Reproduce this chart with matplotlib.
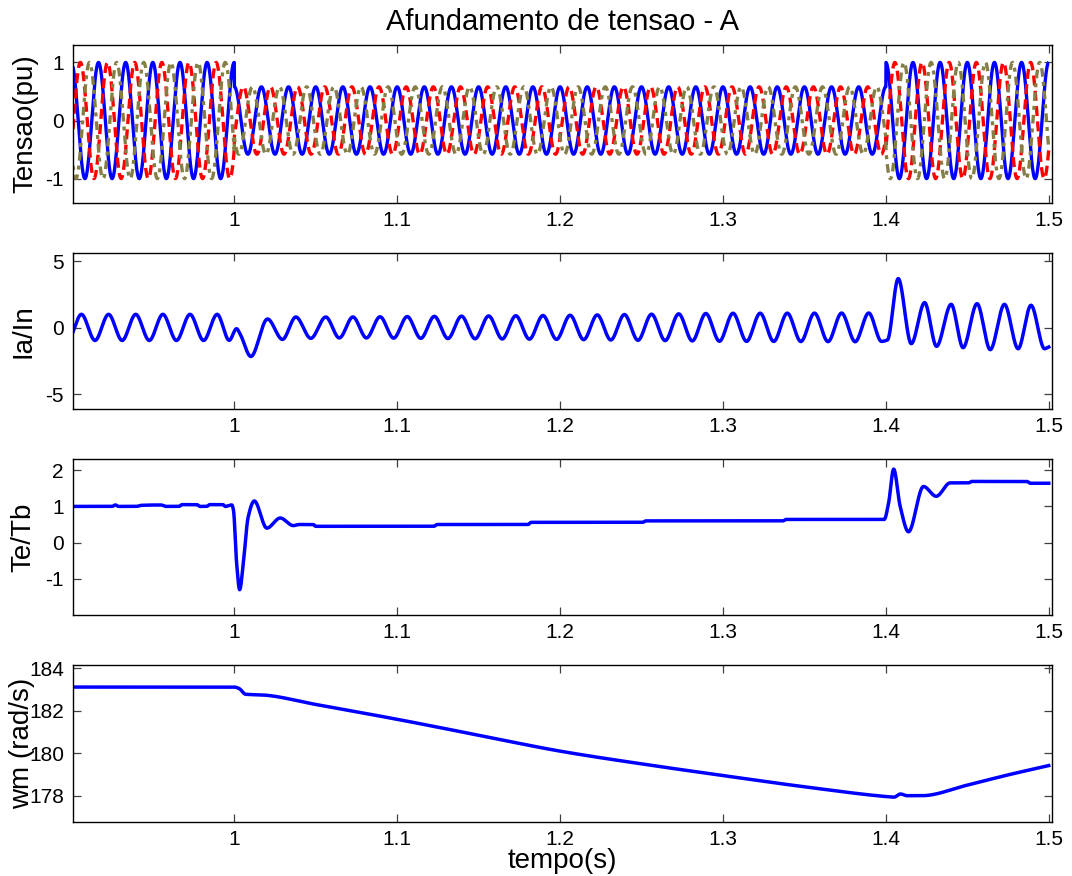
import numpy as np
import matplotlib
matplotlib.use('Agg')
import matplotlib.pyplot as plt

plt.rcParams['font.family'] = ['Liberation Sans', 'DejaVu Sans']

# ---------------- data ----------------
title = 'Afundamento de tensao - A'
xlabel = 'tempo(s)'
ylabels = ['Tensao(pu)', 'Ia/In', 'Te/Tb', 'wm (rad/s)']
x_ticks = [1.0, 1.1, 1.2, 1.3, 1.4, 1.5]
x_tick_labels = ['1', '1.1', '1.2', '1.3', '1.4', '1.5']
t_first, t_last = 0.9, 1.5

# Three-phase voltages (60 Hz), amplitude steps at sag start / end
freq_hz = 60.0
phase_deg = [0.0, -120.0, 120.0]            # phase A (blue), B (red), C (olive)
v_step_times = [0.9, 1.0, 1.4]
v_step_amps = [1.0, 0.58, 1.0]

# Phase-A current: regular 60 Hz extrema envelope + read transient extrema
ia_phase_frac = 0.37
ia_env_t = [0.88, 0.997, 1.05, 1.07, 1.20, 1.30, 1.395]
ia_env_amp = [0.98, 0.98, 0.80, 0.78, 0.90, 1.05, 1.08]
ia_env_off = [0.02, 0.02, 0.00, 0.02, 0.02, 0.03, 0.02]
ia_regular_windows = [(0.88, 0.995), (1.05, 1.393)]
ia_trans_t = [0.9969, 1.0014, 1.0035, 1.0102, 1.0204, 1.0296, 1.0378, 1.0470,
              1.3973, 1.4010, 1.4076, 1.4156, 1.4238, 1.4311, 1.4401, 1.4474,
              1.4560, 1.4641, 1.4728, 1.4812, 1.4891, 1.4974, 1.5000]
ia_trans_v = [-0.95, -0.08, -0.45, -2.16, 0.65, -0.88, 0.80, -0.80,
              -1.03, -0.92, 3.68, -1.20, 1.88, -1.40, 1.75, -1.50,
              1.80, -1.65, 1.75, -1.58, 1.68, -1.58, -1.45]

# Electromagnetic torque knots
te_t = [0.900, 0.925, 0.927, 0.929, 0.940, 0.943, 0.955, 0.958, 0.966, 0.968,
        0.977, 0.979, 0.983, 0.985, 0.993, 0.9945, 0.9985, 0.9995, 1.0015,
        1.0033, 1.0055, 1.0085, 1.0123, 1.0200, 1.0282, 1.0362, 1.0400,
        1.0485, 1.0500, 1.1225, 1.1245, 1.1803, 1.1823, 1.2507, 1.2527,
        1.3368, 1.3388, 1.3990, 1.4017, 1.4048, 1.4088, 1.4139, 1.4231,
        1.4309, 1.4395, 1.4508, 1.4528, 1.4866, 1.4887, 1.5000]
te_v = [1.00, 1.00, 1.04, 1.00, 1.00, 1.03, 1.04, 1.00, 1.00, 1.05,
        1.05, 1.00, 1.00, 1.05, 1.05, 1.00, 1.04, 0.90, -0.60,
        -1.30, -0.60, 0.70, 1.15, 0.40, 0.68, 0.47, 0.50,
        0.50, 0.45, 0.45, 0.50, 0.50, 0.56, 0.56, 0.60,
        0.60, 0.64, 0.64, 1.10, 2.03, 1.00, 0.30, 1.55,
        1.28, 1.65, 1.65, 1.69, 1.69, 1.64, 1.64]

# Rotor speed knots
wm_t = [0.900, 1.000, 1.003, 1.007, 1.017, 1.050, 1.100, 1.150, 1.200, 1.250,
        1.300, 1.350, 1.400, 1.405, 1.409, 1.413, 1.422, 1.450, 1.475, 1.500]
wm_v = [183.12, 183.12, 183.05, 182.78, 182.75, 182.30, 181.60, 180.85, 180.10, 179.50,
        178.95, 178.42, 177.96, 177.93, 178.08, 178.00, 178.00, 178.50, 178.98, 179.42]

# ---------------- helpers ----------------
def pchip(xk, yk, x):
    xk = np.asarray(xk, float); yk = np.asarray(yk, float)
    h = np.diff(xk); d = np.diff(yk) / h
    m = np.zeros_like(yk)
    for k in range(1, len(xk) - 1):
        if d[k - 1] * d[k] > 0:
            w1 = 2 * h[k] + h[k - 1]; w2 = h[k] + 2 * h[k - 1]
            m[k] = (w1 + w2) / (w1 / d[k - 1] + w2 / d[k])
    m[0] = d[0]
    m[-1] = d[-1]
    i = np.clip(np.searchsorted(xk, x) - 1, 0, len(xk) - 2)
    s = (x - xk[i]) / h[i]
    h00 = 2 * s**3 - 3 * s**2 + 1; h10 = s**3 - 2 * s**2 + s
    h01 = -2 * s**3 + 3 * s**2; h11 = s**3 - s**2
    return h00 * yk[i] + h10 * h[i] * m[i] + h01 * yk[i + 1] + h11 * h[i] * m[i + 1]

t = np.arange(t_first, t_last + 1e-9, 1e-4)

# voltages
amp = np.array(v_step_amps)[np.searchsorted(v_step_times, t, side='right') - 1]
volts = [amp * np.cos(2 * np.pi * freq_hz * t + np.deg2rad(p)) for p in phase_deg]

# current extrema
ext_t, ext_v = [], []
for (a, b) in ia_regular_windows:
    n0 = int(np.floor(a * freq_hz)) - 1
    n1 = int(np.ceil(b * freq_hz)) + 1
    for n in range(n0, n1):
        for half, sgn in ((0.0, 1.0), (0.5, -1.0)):
            tx = (n + ia_phase_frac + half) / freq_hz
            if a <= tx < b:
                A = np.interp(tx, ia_env_t, ia_env_amp)
                O = np.interp(tx, ia_env_t, ia_env_off)
                ext_t.append(tx); ext_v.append(O + sgn * A)
ext_t += ia_trans_t; ext_v += ia_trans_v
order = np.argsort(ext_t)
ext_t = np.array(ext_t)[order]; ext_v = np.array(ext_v)[order]
ia = pchip(ext_t, ext_v, t)

te = pchip(te_t, te_v, t)
wm = pchip(wm_t, wm_v, t)

# ---------------- figure ----------------
W, H = 1072, 876
fig = plt.figure(figsize=(W / 100, H / 100), dpi=100)
fig.patch.set_facecolor('white')

left_px, right_px = 73, 1052
panels_px = [(45, 203), (253, 409), (459, 615), (665, 822)]
ylims = [(-1.42, 1.30), (-6.1, 5.6), (-2.0, 2.31), (176.76, 184.16)]
yticks = [[-1, 0, 1], [-5, 0, 5], [-1, 0, 1, 2], [178, 180, 182, 184]]
ylabel_x = [-0.035, -0.037, -0.037, -0.039]
xlim = (0.901, 1.502)

axes = []
for (top, bot) in panels_px:
    ax = fig.add_axes([left_px / W, 1 - bot / H, (right_px - left_px) / W, (bot - top) / H])
    axes.append(ax)

blue = '#0000ff'
red = '#ff0000'
olive = '#857f45'

ax = axes[0]
ax.plot(t, volts[0], color=blue, lw=2.4, solid_capstyle='butt')
ax.plot(t, volts[1], color=red, lw=2.4, dashes=(3.0, 1.6))
ax.plot(t, volts[2], color=olive, lw=2.4, dashes=(1.2, 1.5, 2.6, 1.5))

axes[1].plot(t, ia, color=blue, lw=2.5)
axes[2].plot(t, te, color=blue, lw=2.5)
axes[3].plot(t, wm, color=blue, lw=2.5)

for i, ax in enumerate(axes):
    ax.set_xlim(*xlim)
    ax.set_ylim(*ylims[i])
    ax.set_yticks(yticks[i])
    ax.set_yticklabels([str(v) for v in yticks[i]])
    ax.set_xticks(x_ticks)
    ax.set_xticklabels(x_tick_labels)
    ax.tick_params(direction='in', length=6, width=0.9, color='#404040',
                   top=True, right=True, labelsize=15)
    ax.tick_params(axis='x', pad=5.5)
    ax.tick_params(axis='y', pad=6.5)
    for sp in ax.spines.values():
        sp.set_linewidth(1.0)
        sp.set_color('black')
    ax.set_ylabel(ylabels[i], fontsize=20)
    ax.yaxis.set_label_coords(ylabel_x[i], 0.5)

axes[3].set_xlabel(xlabel, fontsize=20)
axes[3].xaxis.set_label_coords(0.5, -0.165)

fig.text((left_px + right_px) / 2 / W, 1 - 22 / H, title, ha='center', va='center', fontsize=21)

fig.savefig('out.png', dpi=100, facecolor='white')
